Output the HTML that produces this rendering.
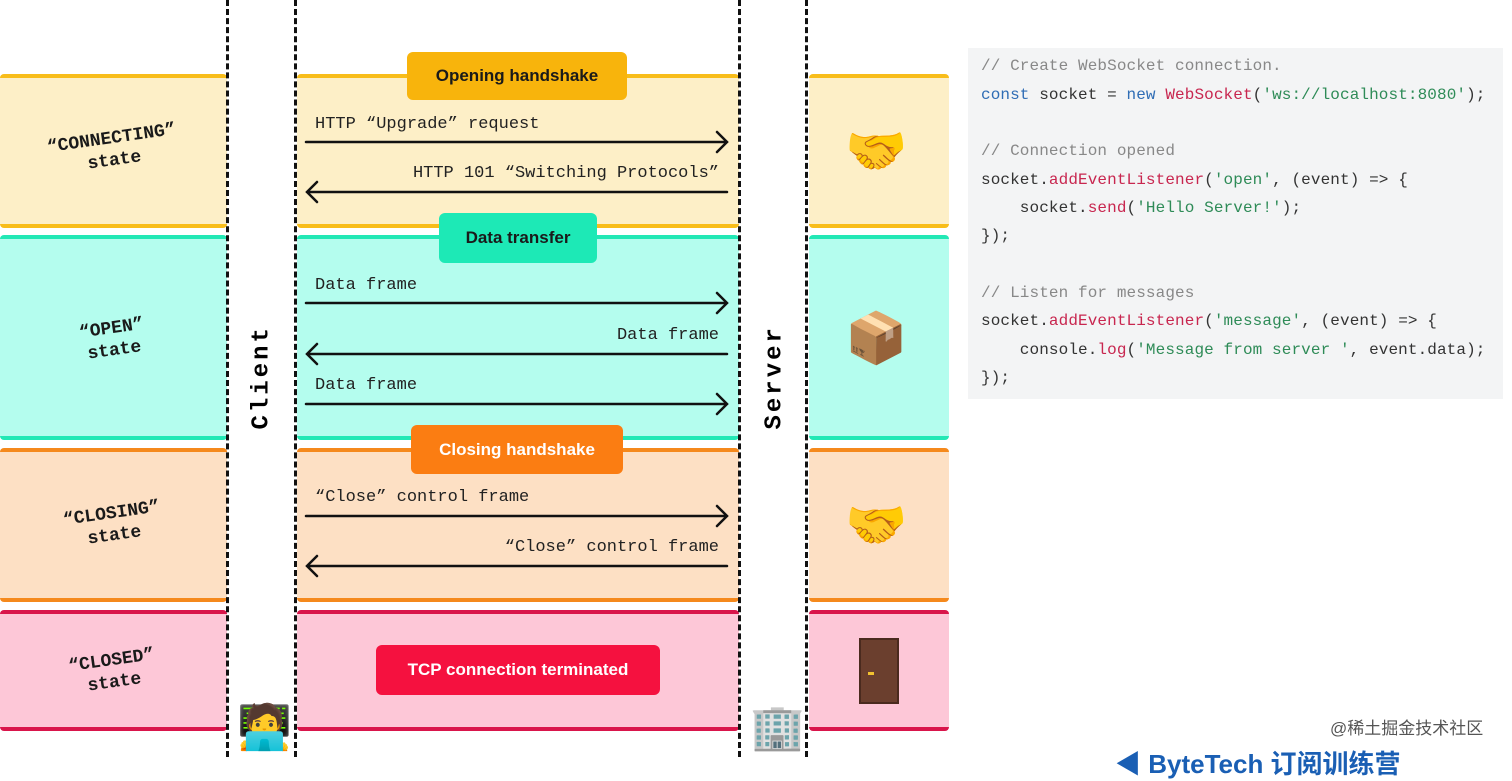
<!DOCTYPE html>
<html><head><meta charset="utf-8"><style>
*{margin:0;padding:0;box-sizing:border-box}
body{width:1512px;height:757px;background:#fff;position:relative;overflow:hidden;font-family:"Liberation Sans",sans-serif}
.a{position:absolute}
.band{position:absolute;border-top:4px solid;border-bottom:4px solid;border-radius:4px}
.vl{position:absolute;top:0;height:757px;width:0;border-left:3px dashed #111}
.badge{position:absolute;border-radius:6px;font-weight:bold;font-size:17px;display:flex;align-items:center;justify-content:center;color:#1a1a1a}
.lbl{position:absolute;font-family:"Liberation Mono",monospace;font-size:17px;color:#222;white-space:pre}
.st{position:absolute;font-family:"Liberation Mono",monospace;font-weight:bold;font-size:18px;text-align:center;transform:rotate(-8deg);line-height:22px;color:#1a1a1a;width:200px}
.code{position:absolute;left:968px;top:48px;width:535px;height:351px;background:#f3f4f5}
.cl{position:absolute;left:13px;font-family:"Liberation Mono",monospace;font-size:16px;color:#333;white-space:pre;letter-spacing:0.1px}
.c{color:#888}.k{color:#2f6db5}.r{color:#c8264f}.g{color:#2e8b57}
.emo{position:absolute;font-size:50px;line-height:1}
</style></head><body>
<!-- bands -->
<div class="band" style="left:0;top:74px;width:227px;height:154px;background:#fdefc7;border-color:#f8bd1a"></div>
<div class="band" style="left:297px;top:74px;width:442px;height:154px;background:#fdefc7;border-color:#f8bd1a"></div>
<div class="band" style="left:809px;top:74px;width:140px;height:154px;background:#fdefc7;border-color:#f8bd1a"></div>

<div class="band" style="left:0;top:235px;width:227px;height:205px;background:#b4fdee;border-color:#22e8b5"></div>
<div class="band" style="left:297px;top:235px;width:442px;height:205px;background:#b4fdee;border-color:#22e8b5"></div>
<div class="band" style="left:809px;top:235px;width:140px;height:205px;background:#b4fdee;border-color:#22e8b5"></div>

<div class="band" style="left:0;top:448px;width:227px;height:154px;background:#fde0c4;border-color:#f5891c"></div>
<div class="band" style="left:297px;top:448px;width:442px;height:154px;background:#fde0c4;border-color:#f5891c"></div>
<div class="band" style="left:809px;top:448px;width:140px;height:154px;background:#fde0c4;border-color:#f5891c"></div>

<div class="band" style="left:0;top:610px;width:227px;height:121px;background:#fdc7d7;border-color:#d9154b"></div>
<div class="band" style="left:297px;top:610px;width:442px;height:121px;background:#fdc7d7;border-color:#d9154b"></div>
<div class="band" style="left:809px;top:610px;width:140px;height:121px;background:#fdc7d7;border-color:#d9154b"></div>

<div class="vl" style="left:226px"></div>
<div class="vl" style="left:294px"></div>
<div class="vl" style="left:738px"></div>
<div class="vl" style="left:805px"></div>

<!-- state labels -->
<div class="st" style="left:13px;top:128px">“CONNECTING”<br>state</div>
<div class="st" style="left:13px;top:318px">“OPEN”<br>state</div>
<div class="st" style="left:13px;top:503px">“CLOSING”<br>state</div>
<div class="st" style="left:13px;top:650px">“CLOSED”<br>state</div>

<!-- Client / Server -->
<div class="a" style="left:212px;top:366px;width:100px;text-align:center;transform:rotate(-90deg);font-weight:bold;font-size:24px;letter-spacing:3px;font-family:'Liberation Mono',monospace">Client</div>
<div class="a" style="left:725px;top:366px;width:100px;text-align:center;transform:rotate(-90deg);font-weight:bold;font-size:24px;letter-spacing:3px;font-family:'Liberation Mono',monospace">Server</div>

<!-- badges -->
<div class="badge" style="left:407px;top:52px;width:220px;height:48px;background:#f8b40c">Opening handshake</div>
<div class="badge" style="left:439px;top:213px;width:158px;height:50px;background:#1de9b6">Data transfer</div>
<div class="badge" style="left:411px;top:425px;width:212px;height:49px;background:#fb7d12;color:#fff">Closing handshake</div>
<div class="badge" style="left:376px;top:645px;width:284px;height:50px;background:#f5113f;color:#fff">TCP connection terminated</div>

<!-- arrows -->
<svg class="a" style="left:0;top:0" width="1512" height="757">
<g stroke="#111" stroke-width="2.5" fill="none" stroke-linecap="round">
<path d="M306 142H727M717 132L727 142L717 152"/>
<path d="M307 192H727M317 182L307 192L317 202"/>
<path d="M306 303H727M717 293L727 303L717 313"/>
<path d="M307 354H727M317 344L307 354L317 364"/>
<path d="M306 404H727M717 394L727 404L717 414"/>
<path d="M306 516H727M717 506L727 516L717 526"/>
<path d="M307 566H727M317 556L307 566L317 576"/>
</g></svg>
<div class="lbl" style="left:315px;top:115px">HTTP “Upgrade” request</div>
<div class="lbl" style="right:793px;top:164px">HTTP 101 “Switching Protocols”</div>
<div class="lbl" style="left:315px;top:276px">Data frame</div>
<div class="lbl" style="right:793px;top:326px">Data frame</div>
<div class="lbl" style="left:315px;top:376px">Data frame</div>
<div class="lbl" style="left:315px;top:488px">“Close” control frame</div>
<div class="lbl" style="right:793px;top:538px">“Close” control frame</div>

<!-- emojis -->
<div class="emo" style="left:845px;top:126px">🤝</div>
<div class="emo" style="left:845px;top:313px">📦</div>
<div class="emo" style="left:845px;top:500px">🤝</div>
<div class="a" style="left:859px;top:638px;width:40px;height:66px;background:#6b3f2e;border:2px solid #4a2a1e"><div class="a" style="left:7px;top:32px;width:6px;height:3px;background:#f2c230"></div></div>
<div class="emo" style="left:237px;top:706px;font-size:44px">🧑‍💻</div>
<div class="emo" style="left:750px;top:706px;font-size:44px">🏢</div>

<!-- code -->
<div class="code">
<div class="cl c" style="top:9px">// Create WebSocket connection.</div>
<div class="cl" style="top:38px"><span class="k">const</span> socket = <span class="k">new</span> <span class="r">WebSocket</span>(<span class="g">'ws://localhost:8080'</span>);</div>
<div class="cl c" style="top:94px">// Connection opened</div>
<div class="cl" style="top:123px">socket.<span class="r">addEventListener</span>(<span class="g">'open'</span>, (event) =&gt; {</div>
<div class="cl" style="top:151px">    socket.<span class="r">send</span>(<span class="g">'Hello Server!'</span>);</div>
<div class="cl" style="top:179px">});</div>
<div class="cl c" style="top:236px">// Listen for messages</div>
<div class="cl" style="top:264px">socket.<span class="r">addEventListener</span>(<span class="g">'message'</span>, (event) =&gt; {</div>
<div class="cl" style="top:293px">    console.<span class="r">log</span>(<span class="g">'Message from server '</span>, event.data);</div>
<div class="cl" style="top:321px">});</div>
</div>

<div class="a" style="left:1330px;top:714px;font-size:17px;color:#555;font-family:'Liberation Sans','Noto Sans CJK SC',sans-serif">@稀土掘金技术社区</div>
<div class="a" style="left:1115px;top:744px;font-size:26px;font-weight:bold;color:#1a5fb4;font-family:'Liberation Sans','Noto Sans CJK SC',sans-serif">◀ ByteTech 订阅训练营</div>
</body></html>
